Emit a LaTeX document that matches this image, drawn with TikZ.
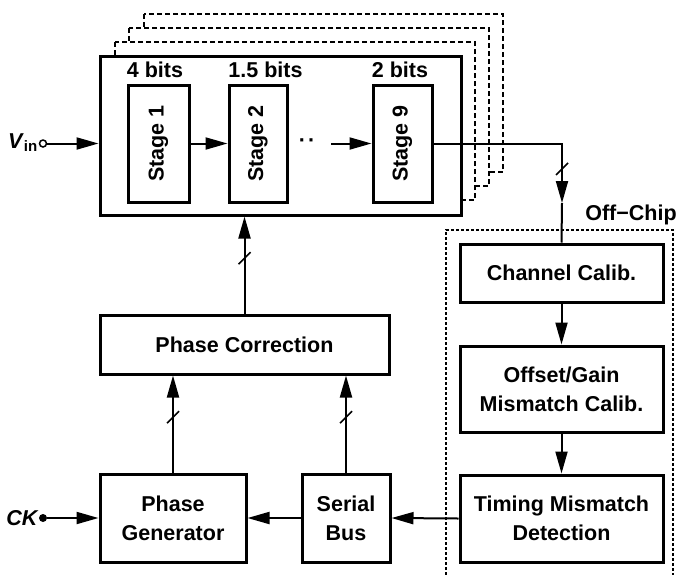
\documentclass[tikz,border=0pt]{standalone}
\usepackage{fontspec}
\setmainfont{Liberation Sans}
\usetikzlibrary{arrows.meta}
\newcommand{\busslash}[1]{\draw [line width=1.5pt] ([shift={(-6pt,-6pt)}]#1) -- ([shift={(6pt,6pt)}]#1);}

\begin{document}
\begin{tikzpicture}
[every node/.style={inner sep=0pt, font=\fontsize{21.5}{29}\selectfont\bfseries},
 block/.style={draw=black, line width=3pt, fill=white, align=center},
 copybox/.style={draw=black, line width=2pt, fill=white, dash pattern=on 5pt off 3pt},
 wire/.style={line width=2pt, color=black},
 >={Triangle[length=22pt, width=12pt]}]
\useasboundingbox (0pt,0pt) rectangle (680pt,-574pt);

% the other channels, stacked behind
\draw [copybox] (144pt,-14pt) rectangle (503pt,-172pt);
\draw [copybox] (129pt,-28pt) rectangle (489pt,-186pt);
\draw [copybox] (115pt,-42pt) rectangle (475pt,-200pt);

\node (adc) [block, minimum width=361pt, minimum height=159pt] at (280.5pt, -135.5pt) {};
\node (s1) [block, minimum width=61pt, minimum height=117pt] at (158.5pt, -143.5pt) {\rotatebox{90}{Stage 1}};
\node (s2) [block, minimum width=58pt, minimum height=117pt] at (258.0pt, -143.5pt) {\rotatebox{90}{Stage 2}};
\node (s9) [block, minimum width=59pt, minimum height=117pt] at (402.5pt, -143.5pt) {\rotatebox{90}{Stage 9}};
\node (b1) [anchor=base] at (155.0pt, -77.0pt) {4 bits};
\node (b2) [anchor=base] at (265.5pt, -77.0pt) {1.5 bits};
\node (b9) [anchor=base] at (400.0pt, -77.0pt) {2 bits};
\node (dots) at (307.0pt, -143.0pt) {·\kern2pt·};
\coordinate (d9) at (331.0pt, -143.5pt);

% input
\node (vin) [anchor=base east] at (38.0pt, -148.0pt) {\textit{V}\textsubscript{in}};
\node (vinc) [circle, minimum size=7pt, fill=white, line width=1.5pt, draw=black] at (43.0pt, -143.5pt) {};
\draw [wire, ->] (vinc) -- (vinc -| adc.west);
\draw [wire, ->] (s1.east) -- (s2.west);
\draw [wire, ->] (d9) -- (s9.west);

% off-chip part
\draw [wire, dash pattern=on 3pt off 2pt] (446pt,-580pt) -- (446pt,-230pt) -- (673pt,-230pt) -- (673pt,-580pt);
\node (off) [anchor=base] at (631.0pt, -220.0pt) {Off−Chip};
\node (cc) [block, minimum width=203pt, minimum height=58pt] at (561.5pt, -273.0pt) {Channel Calib.};
\node (og) [block, minimum width=203pt, minimum height=86pt] at (561.5pt, -389.0pt) {Offset/Gain\\Mismatch Calib.};
\node (tm) [block, minimum width=203pt, minimum height=87pt] at (561.5pt, -518.5pt) {Timing Mismatch\\Detection};

% on-chip control
\node (pc) [block, minimum width=289pt, minimum height=59pt] at (244.5pt, -344.5pt) {Phase Correction};
\node (pg) [block, minimum width=146pt, minimum height=88pt] at (173.0pt, -518.0pt) {Phase\\Generator};
\node (sb) [block, minimum width=88pt, minimum height=88pt] at (346.0pt, -518.0pt) {Serial\\Bus};
\node (ck) [anchor=east] at (39.0pt, -518.0pt) {\textit{CK}};
\node (ckd) [circle, minimum size=8pt, fill=black] at (43.0pt, -518.0pt) {};

\coordinate (tap) at (562.0pt, -203.0pt);
\coordinate (bo) at (562.0pt, -169.0pt);
\draw [wire, ->] (s9.east) -| (tap);
\draw [wire] (tap) -- (cc.north);
\busslash{bo}
\draw [wire, ->] (cc.south) -- (og.north);
\draw [wire, ->] (og.south) -- (tm.north);
\draw [wire, ->] (tm.west) -- (sb.east);
\draw [wire, ->] (sb.west) -- (pg.east);
\draw [wire, ->] (ckd) -- (pg.west);
\draw [wire, ->] (pc.north) -- coordinate[pos=0.57] (bpc) (pc.north |- adc.south);
\draw [wire, ->] (pg.north) -- coordinate[pos=0.57] (bpg) (pg.north |- pc.south);
\draw [wire, ->] (sb.north) -- coordinate[pos=0.57] (bsb) (sb.north |- pc.south);
\busslash{bpc}
\busslash{bpg}
\busslash{bsb}
\end{tikzpicture}
\end{document}
